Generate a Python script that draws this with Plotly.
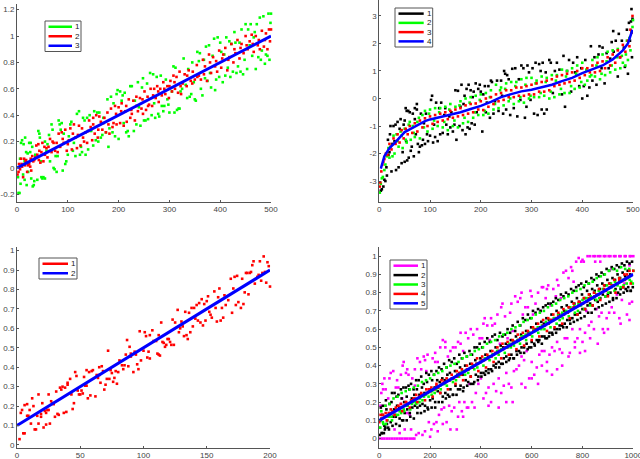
import plotly.graph_objects as go

W, H = 640, 459

# ---- Panel 1 data ----
P1_GREEN = [(2,-.07),(3,-.19),(5,-.19),(6,.07),(7,-.12),(8,.19),(10,.21),(12,-.05),(13,.18),(15,.05),(15,-.09),(16,.23),(18,.12),(19,-.13),(21,.11),(22,-.03),(24,.19),(26,.12),(27,.19),(28,-.08),(30,.16),(31,-.14),(33,-.13),(34,-.1),(36,.1),(40,-.09),(42,.28),(44,.26),(45,.23),(47,.05),(48,-.07),(50,-.08),(52,-.07),(55,-.08),(55,.2),(58,.13),(60,.18),(63,.25),(65,.05),(68,.33),(70,.29),(72,0),(74,-.01),(76,.09),(78,-.03),(80,.09),(82,.36),(84,.33),(86,.29),(88,.34),(90,-.02),(92,.26),(95,.03),(97,.05),(100,.1),(102,.24),(105,.33),(107,.35),(110,.13),(112,.19),(115,.09),(118,.41),(122,.43),(124,.1),(126,.16),(128,.12),(130,.38),(133,.36),(135,.1),(138,.38),(140,.14),(143,.4),(146,.28),(150,.17),(152,.43),(155,.21),(158,.42),(160,.2),(162,.42),(165,.23),(168,.25),(170,.38),(175,.27),(178,.52),(180,.16),(182,.3),(185,.54),(188,.27),(190,.49),(193,.24),(196,.56),(198,.59),(200,.22),(203,.58),(206,.51),(208,.55),(210,.34),(212,.57),(215,.27),(218,.28),(220,.24),(223,.62),(226,.62),(230,.28),(232,.51),(235,.33),(238,.65),(240,.46),(243,.32),(246,.61),(248,.68),(250,.36),(253,.36),(256,.64),(258,.37),(262,.72),(265,.4),(268,.71),(270,.49),(272,.38),(275,.69),(278,.41),(280,.39),(283,.7),(285,.47),(288,.43),(290,.47),(293,.67),(296,.52),(298,.48),(300,.42),(305,.58),(308,.77),(310,.42),(312,.76),(315,.44),(318,.45),(320,.45),(322,.58),(325,.6),(328,.83),(332,.63),(335,.53),(337,.75),(340,.54),(343,.56),(345,.8),(348,.65),(350,.52),(352,.51),(355,.88),(358,.81),(360,.87),(362,.6),(365,.55),(368,.82),(370,.68),(372,.92),(375,.66),(378,.93),(380,.72),(382,.61),(385,.85),(388,.98),(390,.59),(392,.67),(395,.99),(398,.69),(400,.95),(402,.88),(405,.65),(408,.86),(410,.7),(412,.99),(415,.76),(418,.96),(420,.69),(422,.94),(425,.73),(428,1.03),(430,.95),(432,.72),(435,.77),(438,.95),(440,.73),(442,1.05),(445,.71),(448,.82),(450,1.09),(453,.75),(455,1.05),(458,.93),(460,1.09),(463,.85),(466,.99),(468,1.03),(470,.75),(472,1.09),(475,.84),(478,1.14),(480,.82),(482,.89),(485,1.15),(488,.79),(490,.86),(493,.85),(495,1.17),(497,.82),(499,1.1),(500,1.17)]
P1_RED = [(1,-.05),(3,-.03),(4,.03),(6,-.01),(8,.07),(10,.01),(12,-.07),(14,.07),(16,.02),(18,.06),(20,-.03),(22,.02),(24,.03),(26,.01),(28,-.02),(30,.09),(32,.05),(34,.06),(38,.17),(40,.1),(42,.18),(44,.13),(46,.04),(48,.12),(50,.19),(52,.05),(55,.1),(58,.15),(62,.16),(65,.22),(68,.12),(72,.19),(75,.13),(78,.19),(82,.26),(85,.16),(88,.27),(92,.19),(95,.29),(98,.13),(102,.21),(105,.3),(108,.14),(112,.33),(115,.23),(118,.15),(122,.32),(125,.17),(128,.3),(132,.2),(135,.27),(138,.19),(142,.36),(145,.31),(148,.21),(150,.38),(153,.26),(156,.4),(159,.23),(162,.39),(165,.35),(168,.29),(172,.38),(175,.27),(178,.42),(182,.26),(185,.45),(188,.31),(190,.34),(193,.47),(196,.33),(200,.46),(203,.34),(206,.49),(210,.32),(213,.43),(216,.35),(220,.52),(223,.38),(226,.41),(229,.51),(232,.36),(235,.54),(238,.43),(242,.53),(245,.45),(248,.41),(251,.58),(254,.44),(257,.54),(260,.48),(263,.6),(266,.47),(270,.6),(273,.53),(276,.62),(279,.5),(282,.6),(285,.55),(288,.65),(292,.56),(296,.62),(299,.53),(302,.66),(305,.58),(308,.7),(311,.6),(314,.69),(317,.57),(320,.73),(323,.56),(326,.64),(330,.71),(334,.62),(338,.74),(342,.66),(346,.73),(350,.67),(354,.78),(358,.7),(362,.67),(366,.82),(370,.77),(374,.66),(378,.86),(382,.72),(386,.84),(390,.77),(394,.73),(398,.89),(402,.76),(406,.86),(410,.91),(414,.74),(418,.84),(422,.94),(426,.8),(430,.87),(434,.97),(438,.83),(442,.94),(446,.87),(450,1.0),(454,.9),(458,.96),(462,1.01),(466,.88),(470,1.0),(474,.93),(478,.9),(482,1.04),(486,.92),(490,1.02),(493,.9),(496,1.05),(498,.96),(500,1.05)]
P1_RED_B = [(9,.03),(17,.05),(27,.07),(36,.08),(43,.06),(54,.16),(60,.08),(70,.2),(80,.12),(90,.22),(100,.18),(110,.26),(120,.25),(130,.23),(140,.28),(150,.33),(160,.29),(170,.34),(180,.33),(195,.41),(205,.43),(215,.47),(225,.44),(235,.47),(247,.52),(258,.47),(268,.55),(278,.58),(290,.6),(300,.62),(310,.65),(322,.62),(335,.7),(345,.64),(355,.69),(368,.71),(380,.8),(392,.81),(404,.83),(416,.82),(428,.9),(440,.91),(452,.93),(464,.94),(476,.97),(488,.97)]
P1_BLUE = [(0,0),(500,1)]

# ---- Panel 2 data ----
P2_BLACK = [(3,-3.35),(5,-3.3),(8,-3.2),(10,-2.95),(12,-3.0),(14,-2.5),(15,-2.8),(17,-1.5),(18,-2.05),(20,-1.95),(21,-1.3),(22,-1.0),(24,-2.65),(26,-1.65),(28,-1.0),(30,-1.55),(32,-.95),(33,-2.6),(36,-.85),(38,-2.5),(40,-1.1),(42,-.75),(44,-2.35),(46,-1.95),(48,-.95),(50,-.8),(50,-2.3),(52,-.35),(53,-1.55),(54,-.45),(55,-2.25),(57,-.45),(58,-2.15),(60,-.5),(62,-1.9),(64,-1.75),(66,-.55),(68,-2.1),(70,-.75),(70,-.35),(72,-1.3),(74,-.2),(74,-.4),(76,-1.65),(78,-1.95),(80,-1.75),(82,-.55),(84,-1.7),(86,-1.5),(88,-.9),(90,-1.65),(92,-.55),(94,-1.3),(96,-1.55),(100,-1.35),(102,-.05),(104,.1),(106,-1.6),(108,-.95),(110,-1.4),(112,-.15),(115,-1.55),(118,-.35),(120,-1.3),(122,-.15),(125,-1.25),(128,-.6),(130,-.35),(132,-.95),(135,-1.3),(138,-.65),(140,-1.05),(142,-.5),(145,-1.2),(148,-.95),(150,.3),(152,-1.5),(155,.28),(158,-1.0),(160,-.3),(162,.5),(164,-1.15),(166,-.2),(168,.1),(170,-1.3),(172,.35),(174,-1.05),(176,.5),(178,-1.1),(180,.3),(182,-.9),(184,.05),(186,.25),(188,-.95),(190,.55),(192,-.5),(195,.35),(198,.5),(200,.25),(203,-1.2),(205,.15),(208,.45),(210,-.5),(212,-.15),(215,.45),(218,-.7),(220,.65),(222,.6),(225,-.55),(228,-.1),(232,.65),(235,-.45),(240,.65),(242,.1),(244,-.55),(246,1.0),(248,.9),(250,-.4),(252,.85),(255,.7),(258,-.6),(262,1.08),(265,-.35),(268,1.1),(272,-.65),(275,.7),(278,-.05),(280,1.2),(284,1.1),(287,-.7),(290,-.3),(292,1.2),(295,.95),(298,-.05),(302,1.1),(305,-.55),(308,1.3),(312,-.6),(315,1.25),(318,1.0),(320,-.4),(322,1.3),(325,-.55),(328,.95),(330,-.4),(335,1.4),(338,1.3),(342,.2),(346,1.0),(350,1.3),(355,1.05),(360,.15),(363,1.55),(366,-.3),(370,1.0),(374,1.4),(378,.25),(382,1.3),(386,.95),(390,1.5),(394,.45),(398,1.1),(400,0),(403,.45),(406,1.4),(410,.1),(414,.4),(417,1.9),(420,.65),(424,1.5),(428,.5),(432,1.6),(434,1.9),(438,1.1),(440,1.85),(444,.55),(448,1.65),(452,1.1),(455,1.45),(458,2.05),(461,2.45),(462,1.7),(466,2.1),(470,.8),(472,2.35),(474,1.5),(478,2.1),(482,1.85),(484,1.15),(488,2.5),(490,.9),(492,2.75),(494,2.1),(496,2.8),(497,3.25),(498,1.5),(499,2.9)]
P2_GREEN = [(1,-3.42),(3,-3.1),(5,-2.9),(7,-2.85),(10,-2.6),(12,-2.4),(15,-2.1),(18,-1.8),(22,-1.75),(26,-2.1),(30,-2.0),(34,-1.3),(38,-1.75),(42,-1.2),(46,-1.8),(50,-1.1),(54,-1.6),(58,-.95),(62,-1.5),(66,-1.0),(70,-1.4),(75,-.85),(80,-1.45),(85,-.6),(90,-.45),(95,-1.2),(100,-.4),(105,-1.1),(110,-.35),(115,-1.0),(120,-.35),(125,-1.05),(130,-.3),(135,-1.15),(140,-.2),(145,-1.0),(150,-.3),(155,-1.05),(160,-.1),(165,-.9),(170,0),(175,-.85),(180,.05),(185,-.7),(190,.1),(195,-.6),(200,.15),(205,-.6),(210,.2),(215,-.55),(220,.3),(225,-.4),(230,.5),(235,-.35),(240,.4),(245,-.25),(250,.55),(255,-.1),(260,.6),(265,-.2),(270,.6),(275,-.1),(280,.7),(285,-.15),(290,.75),(295,0),(300,.75),(305,.05),(310,.65),(315,.05),(320,.8),(325,.1),(330,.75),(335,.0),(340,.85),(345,.05),(350,.85),(355,.15),(360,1.05),(365,.2),(370,1.0),(375,.2),(380,1.1),(385,.35),(390,1.2),(395,.4),(400,1.3),(405,.5),(410,.65),(415,.8),(420,1.4),(425,.8),(430,1.5),(435,.7),(440,1.6),(445,.85),(450,1.7),(455,.95),(460,1.75),(465,1.05),(470,1.8),(475,1.1),(480,1.3),(485,1.2),(488,2.1),(490,1.4),(493,2.2),(495,1.75),(497,2.4),(499,2.6),(500,2.85)]
P2_GREEN_B = [(20,-2.15),(28,-1.35),(36,-1.55),(44,-1.35),(52,-1.5),(60,-.85),(68,-1.25),(78,-.7),(88,-1.05),(98,-.55),(108,-.8),(118,-.5),(128,-.85),(138,-.4),(148,-.8),(158,-.25),(168,-.7),(178,-.15),(188,-.5),(198,-.05),(208,-.45),(218,.05),(228,-.2),(238,.3),(248,.35),(258,.0),(268,.45),(278,.05),(288,.5),(298,.1),(308,.55),(318,.2),(328,.6),(338,.25),(348,.65),(358,.35),(368,.8),(378,.45),(388,.9),(398,.6),(408,1.05),(418,.85),(428,1.2),(438,.9),(448,1.35),(458,1.2),(468,1.5),(478,1.55),(486,1.6)]
P2_RED = [(1,-3.2),(2,-3.05),(4,-2.65),(6,-2.4),(8,-2.3),(10,-2.2),(13,-2.0),(16,-2.05),(20,-1.65),(24,-1.85),(28,-1.45),(32,-1.65),(36,-1.3),(40,-1.6),(44,-1.15),(48,-1.45),(52,-1.1),(56,-1.3),(60,-1.0),(65,-1.25),(70,-.9),(75,-1.2),(80,-.8),(85,-1.05),(90,-.72),(95,-1.0),(100,-.65),(105,-.92),(110,-.6),(115,-.85),(120,-.55),(125,-.8),(130,-.5),(135,-.75),(140,-.45),(145,-.7),(150,-.4),(155,-.65),(160,-.35),(165,-.6),(170,-.25),(175,-.55),(180,-.2),(185,-.5),(190,-.18),(195,-.4),(200,-.1),(205,-.42),(210,0),(215,-.3),(220,.05),(225,-.2),(230,.15),(235,-.1),(240,.2),(245,-.05),(250,.3),(255,.05),(260,.3),(265,.05),(270,.4),(275,.1),(280,.4),(285,.1),(290,.45),(295,.15),(300,.5),(305,.15),(310,.55),(315,.25),(320,.6),(325,.25),(330,.65),(335,.3),(340,.7),(345,.45),(350,.8),(355,.5),(360,.85),(365,.55),(370,.9),(375,.6),(380,.95),(385,.65),(390,1.0),(395,.75),(400,1.1),(405,.85),(410,1.1),(415,.95),(420,1.2),(425,.95),(430,1.3),(435,1.0),(440,1.35),(445,1.1),(450,1.5),(455,1.2),(460,1.6),(465,1.3),(470,1.75),(475,1.5),(480,1.95),(485,1.7),(490,2.1),(493,1.9),(495,2.5),(497,2.4),(499,3.0)]
P2_BLUE = [(3,-2.55),(5,-2.4),(10,-2.1),(15,-1.95),(20,-1.8),(30,-1.62),(40,-1.4),(50,-1.22),(60,-1.12),(70,-1.02),(80,-.92),(90,-.82),(100,-.76),(120,-.68),(140,-.58),(160,-.5),(180,-.38),(200,-.27),(220,-.12),(240,.05),(260,.16),(280,.26),(300,.32),(320,.4),(340,.5),(360,.63),(380,.75),(400,.92),(420,1.05),(440,1.2),(460,1.42),(480,1.75),(490,2.0),(495,2.3),(499,2.5)]

# ---- Panel 3 data ----
P3_RED = [(2,.03),(3,.165),(4,.18),(5,.06),(6,.06),(6,.205),(8,.21),(8,.15),(9,.15),(10,.18),(11,.11),(12,.24),(13,.2),(14,.08),(15,.08),(16,.15),(17,.11),(17,.26),(19,.145),(19,.16),(20,.215),(21,.09),(22,.175),(23,.165),(23,.105),(24,.18),(25,.18),(25,.26),(26,.11),(27,.225),(28,.215),(29,.21),(30,.145),(31,.275),(32,.16),(33,.155),(34,.295),(35,.285),(36,.3),(37,.165),(38,.295),(39,.17),(40,.32),(40,.31),(42,.34),(43,.26),(44,.185),(45,.215),(46,.375),(47,.355),(48,.28),(49,.26),(50,.26),(51,.28),(52,.265),(53,.35),(54,.305),(55,.305),(55,.385),(56,.24),(57,.375),(58,.255),(59,.38),(60,.385),(62,.25),(63,.36),(64,.345),(65,.36),(65,.4),(66,.32),(67,.405),(68,.38),(69,.285),(70,.31),(71,.34),(72,.485),(73,.34),(74,.385),(75,.37),(76,.325),(77,.345),(78,.38),(79,.315),(80,.375),(81,.435),(83,.41),(84,.39),(85,.41),(86,.465),(87,.54),(88,.405),(89,.505),(90,.47),(90,.455),(92,.375),(93,.48),(94,.465),(95,.415),(96,.39),(97,.585),(98,.435),(100,.485),(101,.58),(102,.56),(103,.45),(104,.48),(105,.565),(105,.445),(107,.59),(108,.535),(110,.535),(111,.47),(112,.565),(112,.465),(113,.46),(114,.63),(115,.53),(116,.525),(117,.505),(118,.515),(119,.545),(120,.545),(121,.53),(122,.515),(123,.645),(124,.515),(125,.63),(127,.695),(128,.58),(129,.6),(130,.635),(131,.61),(132,.56),(133,.685),(134,.565),(135,.545),(136,.68),(137,.58),(138,.705),(139,.61),(140,.705),(141,.65),(142,.72),(143,.64),(144,.73),(145,.63),(146,.75),(147,.615),(148,.725),(149,.64),(150,.74),(151,.765),(152,.685),(153,.67),(154,.655),(156,.79),(157,.705),(158,.635),(159,.76),(160,.805),(161,.64),(162,.705),(163,.655),(164,.77),(165,.72),(167,.745),(169,.855),(170,.68),(171,.805),(172,.865),(173,.72),(174,.87),(175,.735),(177,.705),(178,.855),(179,.725),(180,.785),(181,.885),(182,.885),(183,.775),(184,.885),(185,.89),(186,.925),(187,.945),(188,.83),(190,.865),(191,.875),(192,.945),(193,.845),(194,.885),(195,.97),(196,.89),(197,.835),(198,.94),(199,.92),(200,.815),(201,.975)]
P3_BLUE = [(0,.1),(200,.9)]

# ---- Panel 4 data ----
P4_MAGENTA = [(0,0),(10,0),(20,0),(30,0),(40,0),(50,0),(60,0),(70,0),(80,0),(90,0),(100,0),(110,0),(120,0),(130,0),(138,0),(5,.18),(8,.25),(12,.3),(15,.27),(20,.33),(25,.18),(30,.1),(40,.33),(45,.36),(50,.14),(55,.37),(60,.05),(65,.28),(75,.28),(80,.03),(85,.19),(90,.22),(92,.4),(96,.42),(100,.05),(105,.36),(110,.14),(115,.35),(120,.13),(125,.05),(130,.33),(140,.29),(145,.02),(150,.44),(155,.03),(160,.42),(165,.38),(170,.02),(175,.45),(180,.04),(185,.37),(190,.46),(195,.09),(200,.01),(205,.05),(210,.44),(215,.08),(220,.42),(225,.09),(230,.42),(235,.13),(240,.5),(245,.16),(250,.54),(255,.17),(260,.5),(265,.09),(270,.45),(275,.18),(280,.48),(285,.15),(290,.5),(295,.17),(300,.5),(305,.05),(310,.53),(315,.2),(320,.52),(325,.15),(330,.48),(335,.2),(340,.58),(345,.17),(350,.55),(355,.3),(360,.46),(365,.2),(370,.57),(375,.17),(380,.25),(385,.6),(390,.3),(395,.55),(400,.33),(405,.55),(410,.22),(415,.66),(420,.25),(425,.62),(430,.28),(435,.54),(440,.2),(445,.62),(450,.3),(455,.63),(460,.26),(465,.68),(470,.33),(475,.52),(480,.25),(485,.74),(490,.29),(495,.67),(500,.36),(505,.55),(510,.3),(515,.69),(520,.28),(525,.59),(530,.37),(535,.78),(540,.38),(545,.75),(550,.4),(555,.77),(560,.45),(565,.68),(570,.43),(575,.72),(580,.48),(585,.72),(590,.33),(595,.81),(600,.42),(605,.68),(610,.35),(615,.74),(620,.39),(625,.8),(630,.46),(635,.7),(640,.48),(645,.83),(650,.48),(655,.77),(660,.42),(665,.84),(670,.46),(675,.73),(680,.5),(685,.82),(690,.48),(695,.78),(700,.53),(705,.84),(710,.49),(715,.77),(720,.47),(725,.91),(730,.55),(735,.92),(740,.55),(745,.88),(750,.47),(755,.94),(760,.6),(765,.86),(770,.53),(775,.97),(780,.55),(785,.99),(790,.6),(795,.97),(800,.53),(805,.97),(810,.58),(815,.7),(820,1),(825,.62),(830,1),(835,.64),(843,1),(845,.6),(850,1),(855,.71),(862,1),(865,.67),(870,1),(875,.69),(884,1),(885,.58),(890,1),(895,.66),(903,1),(905,.69),(910,1),(915,.72),(924,1),(925,.69),(930,1),(935,.79),(945,1),(945,.66),(950,1),(955,.76),(966,1),(965,.85),(970,1),(975,.68),(986,1),(985,.74),(990,1),(995,.75),(1000,1),(985,.95),(870,.97),(915,.93),(945,.86)]
P4_MAGENTA_B = [(430,.18),(470,.17),(500,.2),(525,.2),(560,.3),(575,.28),(600,.33),(625,.3),(640,.4),(660,.37),(680,.35),(700,.38),(720,.4),(745,.45),(770,.5),(790,.47),(810,.48),(830,.55),(860,.52),(880,.6),(900,.6),(950,.63),(985,.65),(480,.72),(520,.74),(560,.8),(600,.78),(640,.83),(660,.82),(700,.87),(760,.92),(800,.98),(850,.97),(25,.27),(35,.22),(70,.32),(85,.35),(110,.38),(140,.38),(180,.43),(220,.47),(260,.53),(320,.58),(360,.6),(410,.63),(440,.66),(230,.04),(250,.08),(280,.05),(310,.12),(330,.12),(350,.17)]
P4_BLACK = [(2,.02),(6,.17),(10,.03),(14,.18),(18,.03),(22,.05),(26,.21),(30,.08),(35,.06),(40,.19),(45,.09),(50,.25),(55,.12),(60,.25),(65,.12),(70,.18),(75,.24),(80,.11),(85,.27),(90,.1),(95,.28),(100,.14),(105,.28),(110,.16),(115,.29),(120,.14),(125,.3),(130,.17),(135,.27),(140,.18),(145,.32),(150,.17),(155,.32),(160,.18),(165,.34),(170,.19),(175,.3),(180,.18),(185,.36),(190,.17),(195,.35),(200,.21),(205,.37),(210,.22),(215,.35),(220,.2),(225,.37),(230,.26),(235,.39),(240,.25),(245,.38),(250,.23),(255,.41),(260,.25),(265,.39),(270,.24),(275,.43),(280,.27),(285,.42),(290,.24),(295,.44),(300,.29),(305,.41),(310,.27),(315,.46),(320,.29),(325,.44),(330,.26),(335,.47),(340,.32),(345,.45),(350,.31),(355,.48),(360,.34),(365,.46),(370,.3),(375,.5),(380,.35),(385,.5),(390,.34),(395,.52),(400,.36),(405,.5),(410,.36),(415,.53),(420,.37),(425,.55),(430,.38),(435,.53),(440,.38),(445,.56),(450,.4),(455,.57),(460,.41),(465,.54),(470,.42),(475,.58),(480,.41),(485,.56),(490,.44),(495,.57),(500,.45),(505,.6),(510,.43),(515,.58),(520,.46),(525,.62),(530,.44),(535,.59),(540,.48),(545,.64),(550,.48),(555,.62),(560,.5),(565,.66),(570,.5),(575,.65),(580,.52),(585,.68),(590,.5),(595,.66),(600,.53),(605,.7),(610,.52),(615,.69),(620,.54),(625,.71),(630,.54),(635,.7),(640,.56),(645,.72),(650,.56),(655,.73),(660,.55),(665,.74),(670,.58),(675,.74),(680,.58),(685,.75),(690,.6),(695,.77),(700,.6),(705,.76),(710,.62),(715,.79),(720,.62),(725,.78),(730,.63),(735,.8),(740,.65),(745,.79),(750,.65),(755,.82),(760,.66),(765,.81),(770,.68),(775,.83),(780,.68),(785,.84),(790,.69),(795,.85),(800,.71),(805,.83),(810,.71),(815,.86),(820,.73),(825,.85),(830,.74),(835,.88),(840,.73),(845,.87),(850,.76),(855,.9),(860,.75),(865,.89),(870,.77),(875,.91),(880,.79),(885,.9),(890,.78),(895,.93),(900,.79),(905,.92),(910,.8),(915,.94),(920,.76),(925,.93),(930,.82),(935,.95),(940,.8),(945,.94),(950,.82),(955,.96),(960,.83),(965,.95),(970,.82),(975,.97),(980,.83),(985,.96),(990,.81),(995,.97),(998,.83)]
P4_BLACK_B = [(4,.1),(12,.13),(20,.07),(28,.16),(38,.12),(48,.2),(58,.16),(68,.23),(78,.17),(88,.22),(98,.2),(108,.23),(118,.27),(128,.22),(138,.24),(148,.27),(158,.24),(168,.28),(178,.25),(188,.31),(198,.27),(208,.32),(218,.28),(228,.32),(238,.31),(248,.33),(258,.32),(268,.35),(278,.36),(288,.33),(298,.37),(308,.35),(318,.39),(328,.35),(338,.4),(348,.38),(358,.41),(368,.39),(378,.43),(388,.41),(398,.44),(408,.43),(418,.46),(428,.45),(438,.48),(448,.46),(458,.5),(468,.48),(478,.51),(488,.5),(498,.52),(508,.51),(518,.54),(528,.53),(538,.56),(548,.54),(558,.57),(568,.56),(578,.59),(588,.58),(598,.61),(608,.59),(618,.63),(628,.61),(638,.64),(648,.63),(658,.66),(668,.65),(678,.68),(688,.66),(698,.7),(708,.68),(718,.72),(728,.7),(738,.73),(748,.72),(758,.75),(768,.74),(778,.77),(788,.75),(798,.79),(808,.77),(818,.81),(828,.79),(838,.82),(848,.81),(858,.84),(868,.82),(878,.85),(888,.84),(898,.87),(908,.85),(918,.88),(928,.87),(938,.9),(948,.88),(958,.91),(968,.89),(978,.92),(988,.9)]
P4_BLACK_C = [(10,.03),(24,.06),(38,.05),(52,.07),(66,.08),(80,.07),(94,.1),(108,.1),(122,.12),(136,.11),(150,.14),(164,.14),(178,.15),(192,.16),(206,.17),(220,.17),(234,.2),(248,.2),(262,.22),(276,.23),(290,.24),(304,.24),(318,.27),(332,.28),(346,.29),(360,.3),(374,.31),(388,.32),(402,.34),(416,.35),(430,.36),(444,.37),(458,.39),(472,.39),(486,.41),(500,.42),(514,.44),(528,.44),(542,.46),(556,.47),(570,.47),(584,.49),(598,.5),(612,.51),(626,.53),(640,.52),(654,.55),(668,.56),(682,.57),(696,.58),(710,.6),(724,.61),(738,.61),(752,.63),(766,.64),(780,.65),(794,.66),(808,.67),(822,.69),(836,.69),(850,.71),(864,.72),(878,.73),(892,.74),(906,.75),(920,.77),(934,.77),(948,.79),(962,.8),(976,.81),(990,.81)]
P4_GREEN = [(0,.06),(8,.15),(16,.08),(24,.18),(32,.1),(40,.19),(48,.12),(56,.22),(64,.13),(72,.23),(80,.15),(88,.25),(96,.16),(104,.26),(112,.18),(120,.27),(128,.19),(136,.28),(144,.2),(152,.29),(160,.22),(168,.31),(176,.23),(184,.32),(192,.25),(200,.33),(208,.26),(216,.35),(224,.27),(232,.36),(240,.29),(248,.37),(256,.3),(264,.39),(272,.32),(280,.4),(288,.33),(296,.41),(304,.34),(312,.42),(320,.36),(328,.44),(336,.37),(344,.45),(352,.38),(360,.46),(368,.4),(376,.48),(384,.41),(392,.49),(400,.42),(408,.5),(416,.44),(424,.52),(432,.45),(440,.53),(448,.46),(456,.54),(464,.48),(472,.56),(480,.49),(488,.57),(496,.5),(504,.58),(512,.52),(520,.6),(528,.53),(536,.61),(544,.54),(552,.62),(560,.56),(568,.64),(576,.57),(584,.65),(592,.58),(600,.66),(608,.6),(616,.68),(624,.61),(632,.69),(640,.62),(648,.7),(656,.64),(664,.72),(672,.65),(680,.73),(688,.66),(696,.74),(704,.68),(712,.76),(720,.69),(728,.77),(736,.7),(744,.78),(752,.72),(760,.8),(768,.73),(776,.81),(784,.74),(792,.82),(800,.76),(808,.84),(816,.77),(824,.85),(832,.78),(840,.86),(848,.8),(856,.88),(864,.81),(872,.89),(880,.82),(888,.9),(896,.84),(904,.92),(912,.85),(920,.93),(928,.86),(936,.92),(944,.88),(952,.94),(960,.87),(968,.93),(976,.88),(984,.93),(992,.86),(1000,.92)]
P4_GREEN_B = [(4,.06),(14,.09),(26,.08),(38,.12),(50,.1),(62,.13),(74,.13),(86,.14),(98,.15),(110,.18),(122,.16),(134,.2),(146,.19),(158,.2),(170,.21),(182,.24),(194,.23),(206,.24),(218,.25),(230,.28),(242,.27),(254,.3),(266,.29),(278,.32),(290,.31),(302,.32),(314,.34),(326,.37),(338,.35),(350,.36),(362,.39),(374,.38),(386,.39),(398,.42),(410,.4),(422,.44),(434,.43),(446,.46),(458,.44),(470,.46),(482,.49),(494,.47),(506,.5),(518,.5),(530,.51),(542,.53),(554,.52),(566,.56),(578,.54),(590,.57),(602,.56),(614,.59),(626,.58),(638,.6),(650,.6),(662,.63),(674,.61),(686,.65),(698,.63),(710,.65),(722,.66),(734,.69),(746,.67),(758,.71),(770,.69),(782,.7),(794,.73),(806,.71),(818,.75),(830,.73),(842,.77),(854,.76),(866,.77),(878,.8),(890,.78),(902,.8),(914,.83),(926,.81),(938,.84),(950,.83),(962,.84),(974,.85),(986,.87),(998,.85)]
P4_RED = [(0,.09),(15,.13),(30,.1),(45,.16),(60,.13),(75,.18),(90,.15),(105,.2),(120,.17),(135,.22),(150,.2),(165,.25),(180,.21),(195,.27),(210,.23),(225,.29),(240,.25),(255,.31),(270,.27),(285,.33),(300,.3),(315,.36),(330,.32),(345,.38),(360,.34),(375,.4),(390,.37),(405,.43),(420,.39),(435,.45),(450,.42),(465,.47),(480,.44),(495,.5),(510,.46),(525,.52),(540,.49),(555,.55),(570,.51),(585,.57),(600,.54),(615,.6),(630,.56),(645,.62),(660,.59),(675,.65),(690,.61),(705,.67),(720,.63),(735,.69),(750,.66),(765,.72),(780,.68),(795,.74),(810,.71),(825,.77),(840,.73),(855,.79),(870,.76),(885,.82),(900,.78),(915,.84),(930,.8),(945,.87),(960,.83),(975,.9),(990,.85),(1000,.92)]
P4_RED_B = [(8,.11),(22,.12),(37,.14),(52,.15),(67,.16),(82,.17),(97,.18),(112,.19),(127,.21),(142,.22),(157,.23),(172,.24),(187,.25),(202,.26),(217,.27),(232,.28),(247,.3),(262,.31),(277,.32),(292,.33),(307,.34),(322,.35),(337,.37),(352,.38),(367,.39),(382,.41),(397,.42),(412,.43),(427,.44),(442,.45),(457,.47),(472,.48),(487,.49),(502,.5),(517,.51),(532,.53),(547,.54),(562,.55),(577,.56),(592,.57),(607,.59),(622,.6),(637,.61),(652,.62),(667,.63),(682,.65),(697,.66),(712,.67),(727,.68),(742,.69),(757,.71),(772,.72),(787,.73),(802,.74),(817,.75),(832,.77),(847,.78),(862,.79),(877,.8),(892,.81),(907,.83),(922,.84),(937,.85),(952,.86),(967,.87),(982,.89)]
P4_RED_C = [(5,.13),(25,.14),(45,.14),(65,.17),(85,.19),(105,.2),(125,.21),(145,.24),(165,.24),(185,.27),(205,.28),(225,.3),(245,.32),(265,.33),(285,.35),(305,.37),(325,.38),(345,.4),(365,.41),(385,.44),(405,.45),(425,.46),(445,.48),(465,.5),(485,.52),(505,.53),(525,.54),(545,.57),(565,.58),(585,.59),(605,.61),(625,.63),(645,.65),(665,.66),(685,.68),(705,.69),(725,.71),(745,.72),(765,.74),(785,.75),(805,.77),(825,.79),(845,.8),(865,.82),(885,.84),(905,.85),(925,.87),(945,.88),(965,.9),(985,.92)]
P4_BLUE = [(0,.1),(1000,.9)]

# ---- Axis ticks ----
P1_XTICKS, P1_YTICKS = [0,100,200,300,400,500], [-.2,0,.2,.4,.6,.8,1,1.2]
P2_XTICKS, P2_YTICKS = [0,100,200,300,400,500], [-3,-2,-1,0,1,2,3]
P3_XTICKS, P3_YTICKS = [0,50,100,150,200], [0,.1,.2,.3,.4,.5,.6,.7,.8,.9,1]
P4_XTICKS, P4_YTICKS = [0,200,400,600,800,1000], [0,.1,.2,.3,.4,.5,.6,.7,.8,.9,1]

GREEN, RED, BLUE, BLACK, MAGENTA = "#00ff00", "#ff0000", "#0000ff", "#000000", "#ff00ff"
AXC, TXT = "#555555", "#444444"

panels = [
    dict(box=(17,271,4,201.7), xr=(0,500), yr=(-.256,1.243), xt=P1_XTICKS, yt=P1_YTICKS, lw=3,
         pts=[(P1_GREEN,GREEN,"1"),(P1_RED+P1_RED_B,RED,"2")], line=(P1_BLUE,BLUE,"3"), leg=(45,81,21,51.5)),
    dict(box=(379.3,633,0,201.7), xr=(0,500), yr=(-3.75,3.58), xt=P2_XTICKS, yt=P2_YTICKS, lw=2.5,
         pts=[(P2_BLACK,BLACK,"1"),(P2_GREEN+P2_GREEN_B,GREEN,"2"),(P2_RED,RED,"3")], line=(P2_BLUE,BLUE,"4"), leg=(395,432.7,8,47)),
    dict(box=(17,270,246.7,447.7), xr=(0,200), yr=(-.014,1.02), xt=P3_XTICKS, yt=P3_YTICKS, lw=3,
         pts=[(P3_RED,RED,"1")], line=(P3_BLUE,BLUE,"2"), leg=(39,77,258,279)),
    dict(box=(379.3,633.3,246.7,447.7), xr=(0,1000), yr=(-.05,1.052), xt=P4_XTICKS, yt=P4_YTICKS, lw=3,
         pts=[(P4_MAGENTA+P4_MAGENTA_B,MAGENTA,"1"),(P4_BLACK+P4_BLACK_B+P4_BLACK_C,BLACK,"2"),(P4_GREEN+P4_GREEN_B,GREEN,"3"),(P4_RED+P4_RED_B+P4_RED_C,RED,"4")], line=(P4_BLUE,BLUE,"5"), leg=(390,427,260,309)),
]

fig = go.Figure()
shapes, annos = [], []
layout = {}
for i, p in enumerate(panels, 1):
    sfx = "" if i == 1 else str(i)
    x0, x1, y0, y1 = p["box"]
    common = dict(showgrid=False, zeroline=False, showline=True, linecolor=AXC, linewidth=1, automargin=False,
                  ticks="inside", ticklen=2, tickwidth=1, tickcolor=AXC, ticklabeloverflow="allow",
                  tickfont=dict(family="Liberation Sans", size=8, color=TXT))
    layout["xaxis"+sfx] = dict(domain=[x0/W, x1/W], range=list(p["xr"]), tickvals=p["xt"], ticktext=[str(v) for v in p["xt"]],
                               anchor="y"+sfx, **common)
    layout["yaxis"+sfx] = dict(domain=[1-y1/H, 1-y0/H], range=list(p["yr"]), tickvals=p["yt"], ticktext=[f"{v:g}" for v in p["yt"]],
                               anchor="x"+sfx, **common)
    for data, color, name in p["pts"]:
        fig.add_trace(go.Scatter(x=[d[0] for d in data], y=[d[1] for d in data], mode="markers", name=name,
                                 marker=dict(color=color, size=2.6, symbol="square", line=dict(width=0)),
                                 cliponaxis=False, showlegend=False, xaxis="x"+sfx, yaxis="y"+sfx))
    data, color, name = p["line"]
    fig.add_trace(go.Scatter(x=[d[0] for d in data], y=[d[1] for d in data], mode="lines", name=name,
                             line=dict(color=color, width=p["lw"]), showlegend=False, cliponaxis=False, xaxis="x"+sfx, yaxis="y"+sfx))
    lx0, lx1, ly0, ly1 = p["leg"]
    shapes.append(dict(type="rect", xref="paper", yref="paper", x0=lx0/W, x1=lx1/W, y0=1-ly0/H, y1=1-ly1/H,
                       line=dict(color="#555555", width=1), fillcolor="white", layer="above"))
    entries = [(c, n) for _, c, n in p["pts"]] + [(color, name)]
    rowh = (ly1-ly0-2) / len(entries)
    for k, (c, n) in enumerate(entries):
        yy = ly0 + 1 + rowh*(k+.5)
        shapes.append(dict(type="line", xref="paper", yref="paper", x0=(lx0+3.5)/W, x1=(lx1-9)/W, y0=1-yy/H, y1=1-yy/H,
                           line=dict(color=c, width=2.5), layer="above"))
        annos.append(dict(xref="paper", yref="paper", x=(lx1-8)/W, y=1-yy/H, text=n, showarrow=False,
                          xanchor="left", yanchor="middle", font=dict(family="Liberation Sans", size=8, color="#222222")))

fig.update_layout(width=W, height=H, margin=dict(l=0,r=0,t=0,b=0), paper_bgcolor="white", plot_bgcolor="white",
                  showlegend=False, shapes=shapes, annotations=annos, **layout)
fig.write_html("out.html", config={"displayModeBar": False},
               post_script="document.body.style.margin='0';document.documentElement.style.overflow='hidden';")
